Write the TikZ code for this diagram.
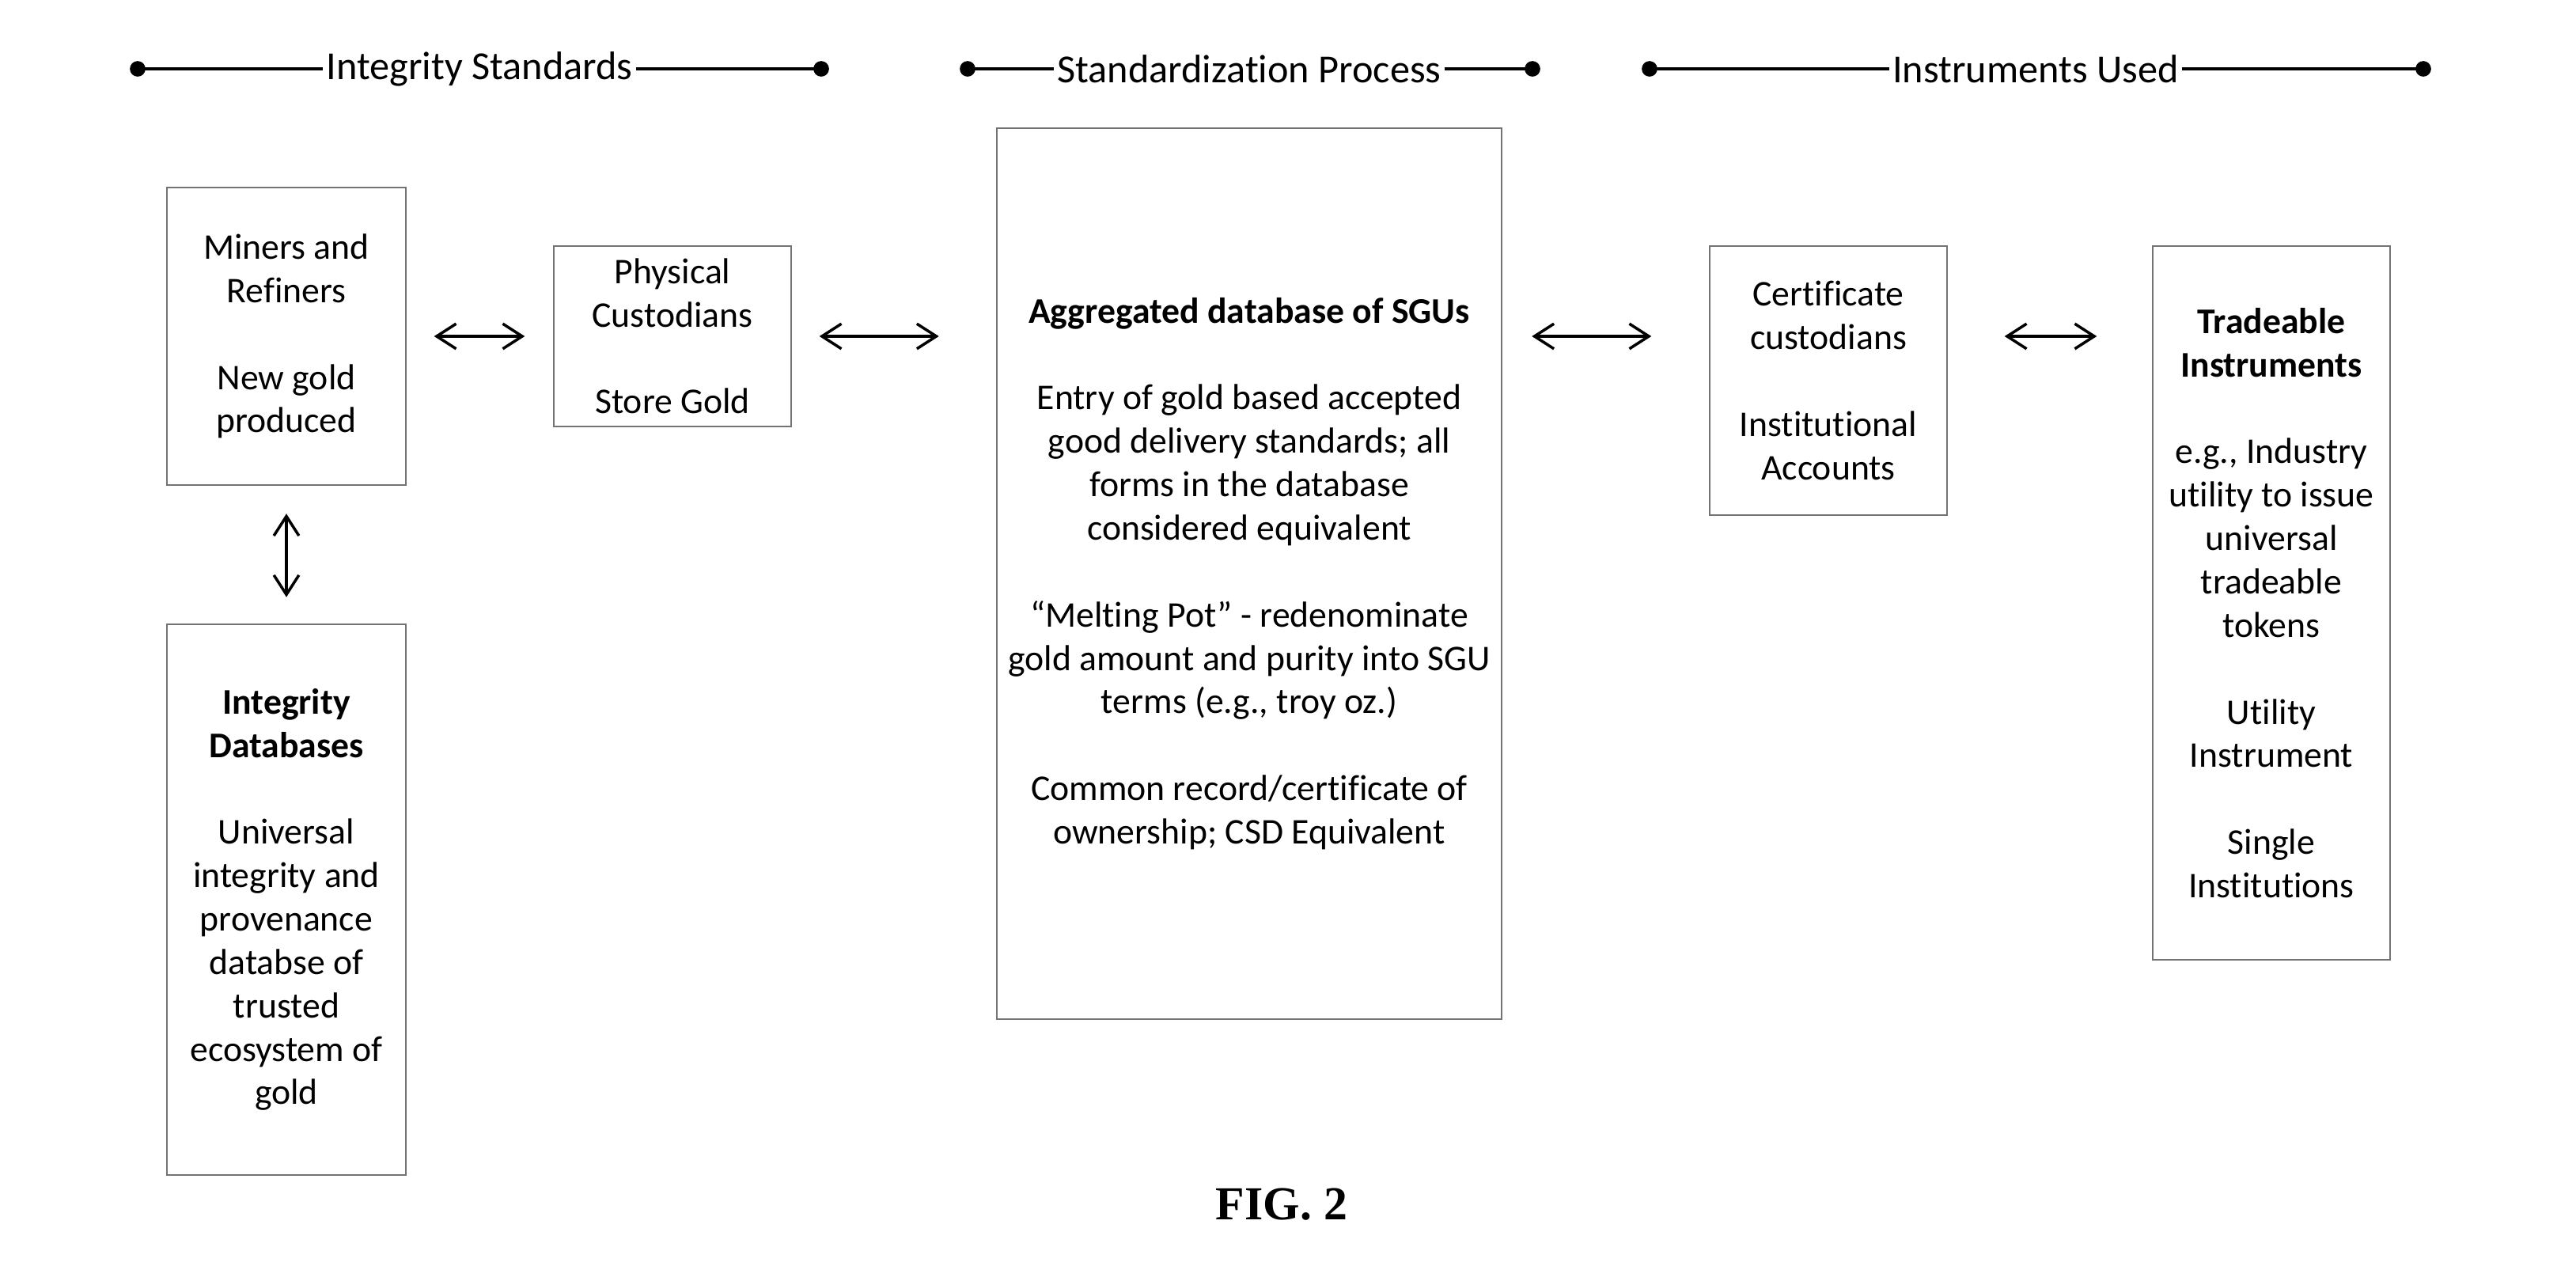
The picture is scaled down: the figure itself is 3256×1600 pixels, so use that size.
\documentclass[tikz,border=0pt]{standalone}
\usepackage{fontspec}
\setmainfont{Carlito}[Ligatures=NoCommon]
\newfontfamily\figfont{Liberation Serif}
\usetikzlibrary{arrows.meta}

\begin{document}
\begin{tikzpicture}[x=0.01cm, y=-0.01cm, >={Straight Barb[length=7pt,width=9pt]},
    box/.style={draw=black!55, line width=0.6pt, align=center, inner sep=2pt,
        font=\fontsize{13}{15.6}\selectfont},
    link/.style={<->, line width=1pt},
    hdr/.style={inner sep=1pt, font=\fontsize{14.3}{16}\selectfont},
    rail/.style={line width=1.1pt}]
    \useasboundingbox (0,0) rectangle (3256,1600);

    % --- Section headings ---
    \foreach \l/\m/\r/\t in {174/606/1038/Integrity Standards,
                             1223/1579/1937/Standardization Process,
                             2085/2573/3063/Instruments Used} {
        \node[hdr] (hd) at (\m,87) {\t};
        \coordinate (hl) at (\l,87);
        \coordinate (hr) at (\r,87);
        \draw[rail] (hl) -- (hd.west);
        \draw[rail] (hd.east) -- (hr);
        \fill (hl) circle (2.8pt);
        \fill (hr) circle (2.8pt);
    }

    % --- Boxes ---
    \node[box, minimum width=3.01cm, minimum height=3.76cm] (miners) at (362,425)
        {Miners and\\Refiners\\[15.6pt]New gold\\produced};
    \node[box, minimum width=2.99cm, minimum height=2.27cm] (phys) at (850,425)
        {Physical\\Custodians\\[15.6pt]Store Gold};
    \node[box, minimum width=6.38cm, minimum height=11.25cm] (agg) at (1579,725)
        {\textbf{Aggregated database of SGUs}\\[15.6pt]
         Entry of gold based accepted\\good delivery standards; all\\
         forms in the database\\considered equivalent\\[15.6pt]
         “Melting Pot” - redenominate\\gold amount and purity into SGU\\
         terms (e.g., troy oz.)\\[15.6pt]
         Common record/certificate of\\ownership; CSD Equivalent};
    \node[box, minimum width=2.99cm, minimum height=3.39cm] (cert) at (2311,481)
        {Certificate\\custodians\\[15.6pt]Institutional\\Accounts};
    \node[box, minimum width=2.99cm, minimum height=9.02cm] (trade) at (2871,762)
        {\textbf{Tradeable}\\\textbf{Instruments}\\[15.6pt]
         e.g., Industry\\utility to issue\\universal\\tradeable\\tokens\\[15.6pt]
         Utility\\Instrument\\[15.6pt]Single\\Institutions};
    \node[box, minimum width=3.01cm, minimum height=6.96cm] (intdb) at (362,1137)
        {\textbf{Integrity}\\\textbf{Databases}\\[15.6pt]
         Universal\\integrity and\\provenance\\databse of\\trusted\\ecosystem of\\gold};

    % --- Links ---
    \draw[link, shorten <=0.35cm, shorten >=0.36cm] (miners.east) -- (phys.west);
    \draw[link, shorten <=0.35cm, shorten >=0.72cm] (phys.east) -- (phys.east -| agg.west);
    \draw[link, shorten <=0.37cm, shorten >=0.73cm] (agg.east |- phys.east) -- (cert.west |- phys.east);
    \draw[link, shorten <=0.72cm, shorten >=0.70cm] (cert.east |- phys.east) -- (trade.west |- phys.east);
    \draw[link, shorten <=0.35cm, shorten >=0.33cm] (miners.south) -- (intdb.north);

    \node[font=\figfont\bfseries\fontsize{17}{20}\selectfont] (fig) at (1620,1522) {FIG. 2};
\end{tikzpicture}
\end{document}
